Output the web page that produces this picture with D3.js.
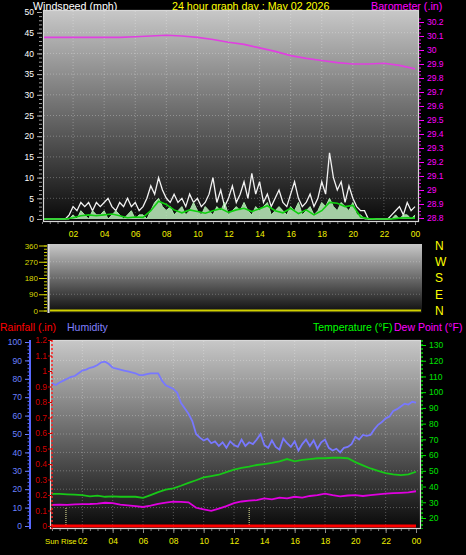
<!DOCTYPE html>
<html><head><meta charset="utf-8">
<script src="https://cdn.jsdelivr.net/npm/d3@7/dist/d3.min.js"></script>
<style>
html,body{margin:0;padding:0;background:#000;overflow:hidden;}
svg{display:block;}
text{font-family:"Liberation Sans",Arial,Helvetica,sans-serif;}
</style></head><body>
<svg id="chart" width="466" height="555"></svg>
<script>
// ---------------- data ----------------
const titleText = "24 hour graph day : May 02 2026";
const xTickHours = [2,4,6,8,10,12,14,16,18,20,22,24];
const xTickLabels = ["02","04","06","08","10","12","14","16","18","20","22","00"];
const windTicks = [0,5,10,15,20,25,30,35,40,45,50];
const baroTicks = [28.8,28.9,29.0,29.1,29.2,29.3,29.4,29.5,29.6,29.7,29.8,29.9,30.0,30.1,30.2];
const baroTickLabels = ["28.8","28.9","29","29.1","29.2","29.3","29.4","29.5","29.6","29.7","29.8","29.9","30","30.1","30.2"];
const dirTicks = [0,90,180,270,360];
const compassLabels = ["N","E","S","W","N"];
const humTicks = [0,10,20,30,40,50,60,70,80,90,100];
const rainTicks = [0,0.1,0.2,0.3,0.4,0.5,0.6,0.7,0.8,0.9,1.0,1.1,1.2];
const rainTickLabels = ["0","0.1","0.2","0.3","0.4","0.5","0.6","0.7","0.8","0.9","1","1.1","1.2"];
const tempTicks = [20,30,40,50,60,70,80,90,100,110,120,130];
const sunHours = [0.92, 13.0];

// wind gust (mph), every 15 minutes from 00:00 to 24:00
const windGust = [0,0,0,0,0,0,0,1,3,2,4,3,4,2,4,3,4,5,3,2,4,3,5,3,4,2,3,5,
  8,6,10,7,5,4,6,4,5,3,6,4,5,3,4,6,10,4,7,3,5,8,4,6,9,5,11,6,9,4,6,3,5,7,4,3,
  6,9,5,3,4,6,3,5,9,6,16,10,7,9,4,8,5,3,2,2,0,0,0,0,0,0,1,2,3,1,4,2,3];
// wind speed (mph), every 15 minutes
const windSpeed = [0,0,0,0,0,0,0,0,
  1,0,2,1,0,2,1,1,2,0,1,2,1,0,1,2,0,1,1,0,
  2,4,5,3,
  2,3,1,2,3,1,2,4,2,1,3,2,1,3,2,4,1,2,3,2,4,2,1,3,2,3,4,1,2,3,2,1,3,2,4,1,2,3,1,2,4,3,5,3,2,4,3,2,4,1,
  1,0,0,0,0,0,0,0,
  0,1,0,1,1,0,1];
// average wind (mph), every 30 minutes
const windAvg = [0,0,0,0,0.3,0.8,1.0,0.8,1.0,1.2,0.8,0.3,0.5,0.4,2.0,4.3,3.5,2.2,1.5,2.2,
  1.8,1.4,2.0,2.5,1.6,2.2,2.6,1.8,2.5,3.2,2.0,1.5,2.6,1.3,2.2,1.0,2.0,4.0,3.8,3.0,
  3.3,0.5,0.1,0,0,0,0.2,0.3,0.2];
// barometer (in), hourly
const baro = [30.09,30.09,30.09,30.09,30.09,30.09,30.095,30.10,30.105,30.10,30.09,30.075,
  30.055,30.04,30.015,29.99,29.96,29.94,29.925,29.91,29.90,29.90,29.905,29.89,29.865];
// wind direction (deg), hourly
const windDir = [0,0,0,0,0,0,0,0,0,0,0,0,0,0,0,0,0,0,0,0,0,0,0,0,0];
// humidity (%), every 15 minutes
const humidity = [77.5,76.6,78.0,79.0,80.0,81.0,81.5,83.0,84.5,85.0,86.0,86.5,87.5,89.0,89.3,88.0,
  86.0,85.5,85.0,84.5,84.0,83.5,83.0,82.0,82.0,82.5,83.0,83.0,83.0,79.0,76.5,75.5,
  74.5,72.5,67.0,64.0,61.0,57.0,50.0,48.0,46.5,47.5,45.0,46.0,43.5,45.5,42.5,46.0,
  44.0,43.0,47.0,43.5,45.5,44.5,47.0,50.0,44.0,42.5,46.5,43.0,41.5,47.5,45.0,43.0,
  46.0,41.0,44.5,47.0,43.5,46.5,42.0,45.5,47.0,42.5,41.0,42.0,40.0,42.5,43.0,44.5,
  48.5,47.0,49.5,49.0,49.5,52.5,55.0,56.5,58.5,59.5,62.5,63.5,65.0,66.5,66.0,67.5,67.0];
// temperature (F), every 30 minutes
const temperature = [35.3,35.3,35.0,34.8,34.5,33.8,34.2,33.5,33.8,33.5,33.5,33.5,32.8,34.6,36.5,38.0,
  38.9,40.5,42.3,44.0,45.8,46.6,47.5,49.2,50.8,51.8,52.6,53.7,54.3,55.0,56.0,57.5,
  56.0,57.0,57.5,58.0,58.0,58.3,58.3,58.0,55.5,53.5,51.5,50.0,48.5,47.8,47.3,47.8,49.4];
// dew point (F), every 30 minutes
const dewPoint = [28.3,28.5,28.3,28.7,28.8,28.9,29.2,29.7,29.5,28.5,28.0,27.5,27.0,27.8,29.0,29.8,
  30.4,30.2,30.0,26.5,25.5,24.6,26.0,27.5,29.5,30.5,31.0,31.4,32.5,31.8,33.0,32.5,
  33.5,33.0,34.0,34.5,35.5,34.5,33.8,34.3,34.6,34.0,34.6,35.0,35.5,35.8,36.0,36.3,37.0];
// rainfall (in), hourly
const rainfall = [0,0,0,0,0,0,0,0,0,0,0,0,0,0,0,0,0,0,0,0,0,0,0,0,0];

// ---------------- drawing ----------------
const svg = d3.select("#chart");
const defs = svg.append("defs");
function gradient(id, c0, c1){
  const g = defs.append("linearGradient").attr("id", id).attr("x1",0).attr("y1",0).attr("x2",0).attr("y2",1);
  g.append("stop").attr("offset","0%").attr("stop-color", c0);
  g.append("stop").attr("offset","100%").attr("stop-color", c1);
}
gradient("bgTop","#c8c8c8","#080808");
gradient("bgMid","#c8c8c8","#0c0c0c");
gradient("bgBot","#c8c8c8","#080808");

function clip(id, x, y, w, h){
  defs.append("clipPath").attr("id", id).append("rect").attr("x",x).attr("y",y).attr("width",w).attr("height",h);
}

// ---- scales ----
const topX = d3.scaleLinear().domain([0,24]).range([42,415]);
const windY = d3.scaleLinear().domain([0,50]).range([219,12]);
const baroY = d3.scaleLinear().domain([28.8,30.2]).range([218,22]);
const midX = d3.scaleLinear().domain([0,24]).range([50,421]);
const dirY = d3.scaleLinear().domain([0,360]).range([310.5,245.5]);
const botX = d3.scaleLinear().domain([0,24]).range([52,416]);
const humY = d3.scaleLinear().domain([0,100]).range([526,342]);
const rainY = d3.scaleLinear().domain([0,1.2]).range([526,340]);
const tempY = d3.scaleLinear().domain([20,130]).range([518,345]);

// ---- headers (drawn first so the panel overlaps descenders) ----
const hdr = svg.append("g").attr("font-size","10.7px");
hdr.append("text").attr("x",33).attr("y",9.5).attr("fill","#ffffff").text("Windspeed (mph)");
hdr.append("text").attr("x",172).attr("y",9.5).attr("fill","#ffff00").text(titleText);
hdr.append("text").attr("x",371).attr("y",9.5).attr("fill","#ff00ff").text("Barometer (.in)");

const hdr2 = svg.append("g").attr("font-size","10.5px");
hdr2.append("text").attr("x",0).attr("y",331).attr("fill","#ff0000").text("Rainfall (.in)");
hdr2.append("text").attr("x",67).attr("y",331).attr("fill","#8080ff").text("Humidity");
hdr2.append("text").attr("x",313).attr("y",331).attr("fill","#00ff00").text("Temperature (°F)");
hdr2.append("text").attr("x",394).attr("y",331).attr("fill","#ff00ff").text("Dew Point (°F)");

function styleAxis(g, color, fontSize){
  g.selectAll("text").attr("fill", color).attr("font-size", fontSize).attr("font-family","'Liberation Sans',Arial,sans-serif");
  g.selectAll("line").attr("stroke", color);
}

// ================= TOP PANEL =================
const topG = svg.append("g");
topG.append("rect").attr("x",43).attr("y",10).attr("width",376).attr("height",212).attr("fill","url(#bgTop)");
clip("clipTop",43,10,376,212);
const topGrid = topG.append("g").attr("stroke","rgba(255,255,255,0.28)").attr("stroke-dasharray","1,2");
topGrid.selectAll("line.h").data(windTicks.filter(v=>v>0 && v<50)).join("line").attr("class","h")
  .attr("x1",44).attr("x2",418).attr("y1",d=>windY(d)).attr("y2",d=>windY(d));
topGrid.selectAll("line.v").data(xTickHours.filter(h=>h<24)).join("line").attr("class","v")
  .attr("x1",d=>topX(d)).attr("x2",d=>topX(d)).attr("y1",11).attr("y2",221);

const topData = topG.append("g").attr("clip-path","url(#clipTop)");
topData.append("path").datum(windSpeed)
  .attr("fill","rgba(190,240,190,0.85)")
  .attr("d", d3.area().x((d,i)=>topX(i*0.25)).y0(windY(0)).y1(d=>windY(d)));
topData.append("path").datum(windGust)
  .attr("fill","none").attr("stroke","#f2f2f2").attr("stroke-width",1.3)
  .attr("d", d3.line().x((d,i)=>topX(i*0.25)).y(d=>windY(d)));
topData.append("path").datum(windSpeed)
  .attr("fill","none").attr("stroke","#a8e8a8").attr("stroke-width",1)
  .attr("d", d3.line().x((d,i)=>topX(i*0.25)).y(d=>windY(d)));
topData.append("path").datum(windAvg)
  .attr("fill","none").attr("stroke","#10d010").attr("stroke-width",1.6)
  .attr("d", d3.line().x((d,i)=>topX(i*0.5)).y(d=>windY(d)));
topData.append("path").datum(baro)
  .attr("fill","none").attr("stroke","#e040e0").attr("stroke-width",1.6)
  .attr("d", d3.line().x((d,i)=>topX(i)).y(d=>baroY(d)));
topG.append("rect").attr("x",43.5).attr("y",10.5).attr("width",375).attr("height",211)
  .attr("fill","none").attr("stroke","#d8d8d8").attr("stroke-width",1.2);

// wind axis (left)
const wAx = svg.append("g").attr("transform","translate(42,0)")
  .call(d3.axisLeft(windY).tickValues(windTicks).tickSize(5).tickPadding(3));
wAx.select(".domain").remove();
styleAxis(wAx,"#ffffff","8.5px");
wAx.selectAll("line").attr("stroke","#b0b0b0");
const wMin = svg.append("g").attr("transform","translate(42,0)")
  .call(d3.axisLeft(windY).tickValues(d3.range(0,51,1)).tickSize(3).tickFormat(""));
wMin.select(".domain").remove();
wMin.selectAll("line").attr("stroke","#a0a0a0");

// baro axis (right)
const bAx = svg.append("g").attr("transform","translate(419,0)")
  .call(d3.axisRight(baroY).tickValues(baroTicks).tickSize(5).tickPadding(3).tickFormat((d,i)=>baroTickLabels[i]));
bAx.select(".domain").remove();
styleAxis(bAx,"#ff00ff","8.5px");
const bMin = svg.append("g").attr("transform","translate(419,0)")
  .call(d3.axisRight(baroY).tickValues(d3.range(28.8,30.25,0.025)).tickSize(2).tickFormat(""));
bMin.select(".domain").remove();
bMin.selectAll("line").attr("stroke","#e000e0");

// top x axis
const txAx = svg.append("g").attr("transform","translate(0,222)")
  .call(d3.axisBottom(topX).tickValues(xTickHours).tickSize(3).tickPadding(6).tickFormat((d,i)=>xTickLabels[i]));
txAx.select(".domain").remove();
styleAxis(txAx,"#f0f000","8.5px");
txAx.selectAll("line").attr("stroke","#909090");
const txMin = svg.append("g").attr("transform","translate(0,222)")
  .call(d3.axisBottom(topX).tickValues(d3.range(0,24.1,0.5)).tickSize(2).tickFormat(""));
txMin.select(".domain").remove();
txMin.selectAll("line").attr("stroke","#808080");

// ================= MIDDLE PANEL =================
const midG = svg.append("g");
midG.append("rect").attr("x",48).attr("y",244).attr("width",374).attr("height",69).attr("fill","url(#bgMid)");
const midGrid = midG.append("g").attr("stroke","rgba(255,255,255,0.25)").attr("stroke-dasharray","1,2");
midGrid.selectAll("line").data([90,180,270]).join("line")
  .attr("x1",50).attr("x2",421).attr("y1",d=>dirY(d)).attr("y2",d=>dirY(d));
midG.append("path").datum(windDir)
  .attr("fill","none").attr("stroke","#d0d000").attr("stroke-width",2)
  .attr("d", d3.line().x((d,i)=>midX(i)).y(d=>dirY(d)));
midG.append("line").attr("x1",48.5).attr("x2",48.5).attr("y1",244).attr("y2",313).attr("stroke","#e0e0e0").attr("stroke-width",2);

const dAx = svg.append("g").attr("transform","translate(47,0)")
  .call(d3.axisLeft(dirY).tickValues(dirTicks).tickSize(8).tickPadding(1));
dAx.select(".domain").remove();
styleAxis(dAx,"#d8d800","8px");
const dMin = svg.append("g").attr("transform","translate(47,0)")
  .call(d3.axisLeft(dirY).tickValues(d3.range(0,361,18)).tickSize(3).tickFormat(""));
dMin.select(".domain").remove();
dMin.selectAll("line").attr("stroke","#c8c800");

svg.append("g").selectAll("text").data(dirTicks).join("text")
  .attr("x",435).attr("y",d=>dirY(d)).attr("dy","0.36em")
  .attr("fill","#ffff00").attr("font-size","12px")
  .text((d,i)=>compassLabels[i]);

// ================= BOTTOM PANEL =================
const botG = svg.append("g");
botG.append("rect").attr("x",50).attr("y",340).attr("width",371).attr("height",189).attr("fill","url(#bgBot)");
clip("clipBot",50,340,371,189);
const botGrid = botG.append("g").attr("stroke","rgba(255,255,255,0.28)").attr("stroke-dasharray","1,2");
botGrid.selectAll("line.h").data(humTicks.filter(v=>v>0 && v<100)).join("line").attr("class","h")
  .attr("x1",51).attr("x2",420).attr("y1",d=>humY(d)).attr("y2",d=>humY(d));
botGrid.selectAll("line.v").data(xTickHours.filter(h=>h<24)).join("line").attr("class","v")
  .attr("x1",d=>botX(d)).attr("x2",d=>botX(d)).attr("y1",341).attr("y2",528);

// sun lines
botG.append("g").selectAll("line").data(sunHours).join("line")
  .attr("x1",d=>botX(d)).attr("x2",d=>botX(d)).attr("y1",508).attr("y2",527)
  .attr("stroke","#f0f0a0").attr("stroke-dasharray","1,1").attr("stroke-width",1);

const botData = botG.append("g").attr("clip-path","url(#clipBot)");
botData.append("path").datum(humidity)
  .attr("fill","none").attr("stroke","#7878ff").attr("stroke-width",1.8)
  .attr("d", d3.line().x((d,i)=>botX(i*0.25)).y(d=>humY(d)));
botData.append("path").datum(temperature)
  .attr("fill","none").attr("stroke","#18c818").attr("stroke-width",1.8)
  .attr("d", d3.line().x((d,i)=>botX(i*0.5)).y(d=>tempY(d)));
botData.append("path").datum(dewPoint)
  .attr("fill","none").attr("stroke","#e000e0").attr("stroke-width",1.8)
  .attr("d", d3.line().x((d,i)=>botX(i*0.5)).y(d=>tempY(d)));
botData.append("path").datum(rainfall)
  .attr("fill","none").attr("stroke","#ff0000").attr("stroke-width",3)
  .attr("d", d3.line().x((d,i)=>botX(i)).y(d=>rainY(d)));
botG.append("rect").attr("x",50.5).attr("y",340.5).attr("width",370).attr("height",188)
  .attr("fill","none").attr("stroke","#d8d8d8").attr("stroke-width",1.2);

// humidity axis
svg.append("line").attr("x1",30).attr("x2",30).attr("y1",340).attr("y2",529).attr("stroke","#5868ff").attr("stroke-width",2);
const hAx = svg.append("g").attr("transform","translate(30,0)")
  .call(d3.axisLeft(humY).tickValues(humTicks).tickSize(5).tickPadding(3));
hAx.select(".domain").remove();
styleAxis(hAx,"#6a80ff","8.5px");
const hMin = svg.append("g").attr("transform","translate(30,0)")
  .call(d3.axisLeft(humY).tickValues(d3.range(0,101,2)).tickSize(2.5).tickFormat(""));
hMin.select(".domain").remove();
hMin.selectAll("line").attr("stroke","#5868ff");

// rain axis
svg.append("line").attr("x1",52).attr("x2",52).attr("y1",340).attr("y2",529)
  .attr("stroke","#ff2020").attr("stroke-width",1.5).attr("stroke-dasharray","2,2");
const rAx = svg.append("g").attr("transform","translate(52,0)")
  .call(d3.axisLeft(rainY).tickValues(rainTicks).tickSize(4).tickPadding(1).tickFormat((d,i)=>rainTickLabels[i]));
rAx.select(".domain").remove();
styleAxis(rAx,"#d00000","8.5px");

// temperature axis
svg.append("line").attr("x1",422).attr("x2",422).attr("y1",340).attr("y2",529)
  .attr("stroke","#00d000").attr("stroke-width",1.5).attr("stroke-dasharray","2,2");
const tAx = svg.append("g").attr("transform","translate(421,0)")
  .call(d3.axisRight(tempY).tickValues(tempTicks).tickSize(5).tickPadding(3));
tAx.select(".domain").remove();
styleAxis(tAx,"#00e000","8.5px");

// bottom x axis
const bxAx = svg.append("g").attr("transform","translate(0,529)")
  .call(d3.axisBottom(botX).tickValues(xTickHours).tickSize(4).tickPadding(5).tickFormat((d,i)=>xTickLabels[i]));
bxAx.select(".domain").remove();
styleAxis(bxAx,"#f0f000","8.5px");
bxAx.selectAll("line").attr("stroke","#909090");
const bxMin = svg.append("g").attr("transform","translate(0,529)")
  .call(d3.axisBottom(botX).tickValues(d3.range(0,24.1,0.5)).tickSize(2).tickFormat(""));
bxMin.select(".domain").remove();
bxMin.selectAll("line").attr("stroke","#808080");

svg.append("text").attr("x",45).attr("y",544).attr("fill","#f0f000").attr("font-size","7.8px").text("Sun Rise");
</script>
</body></html>
